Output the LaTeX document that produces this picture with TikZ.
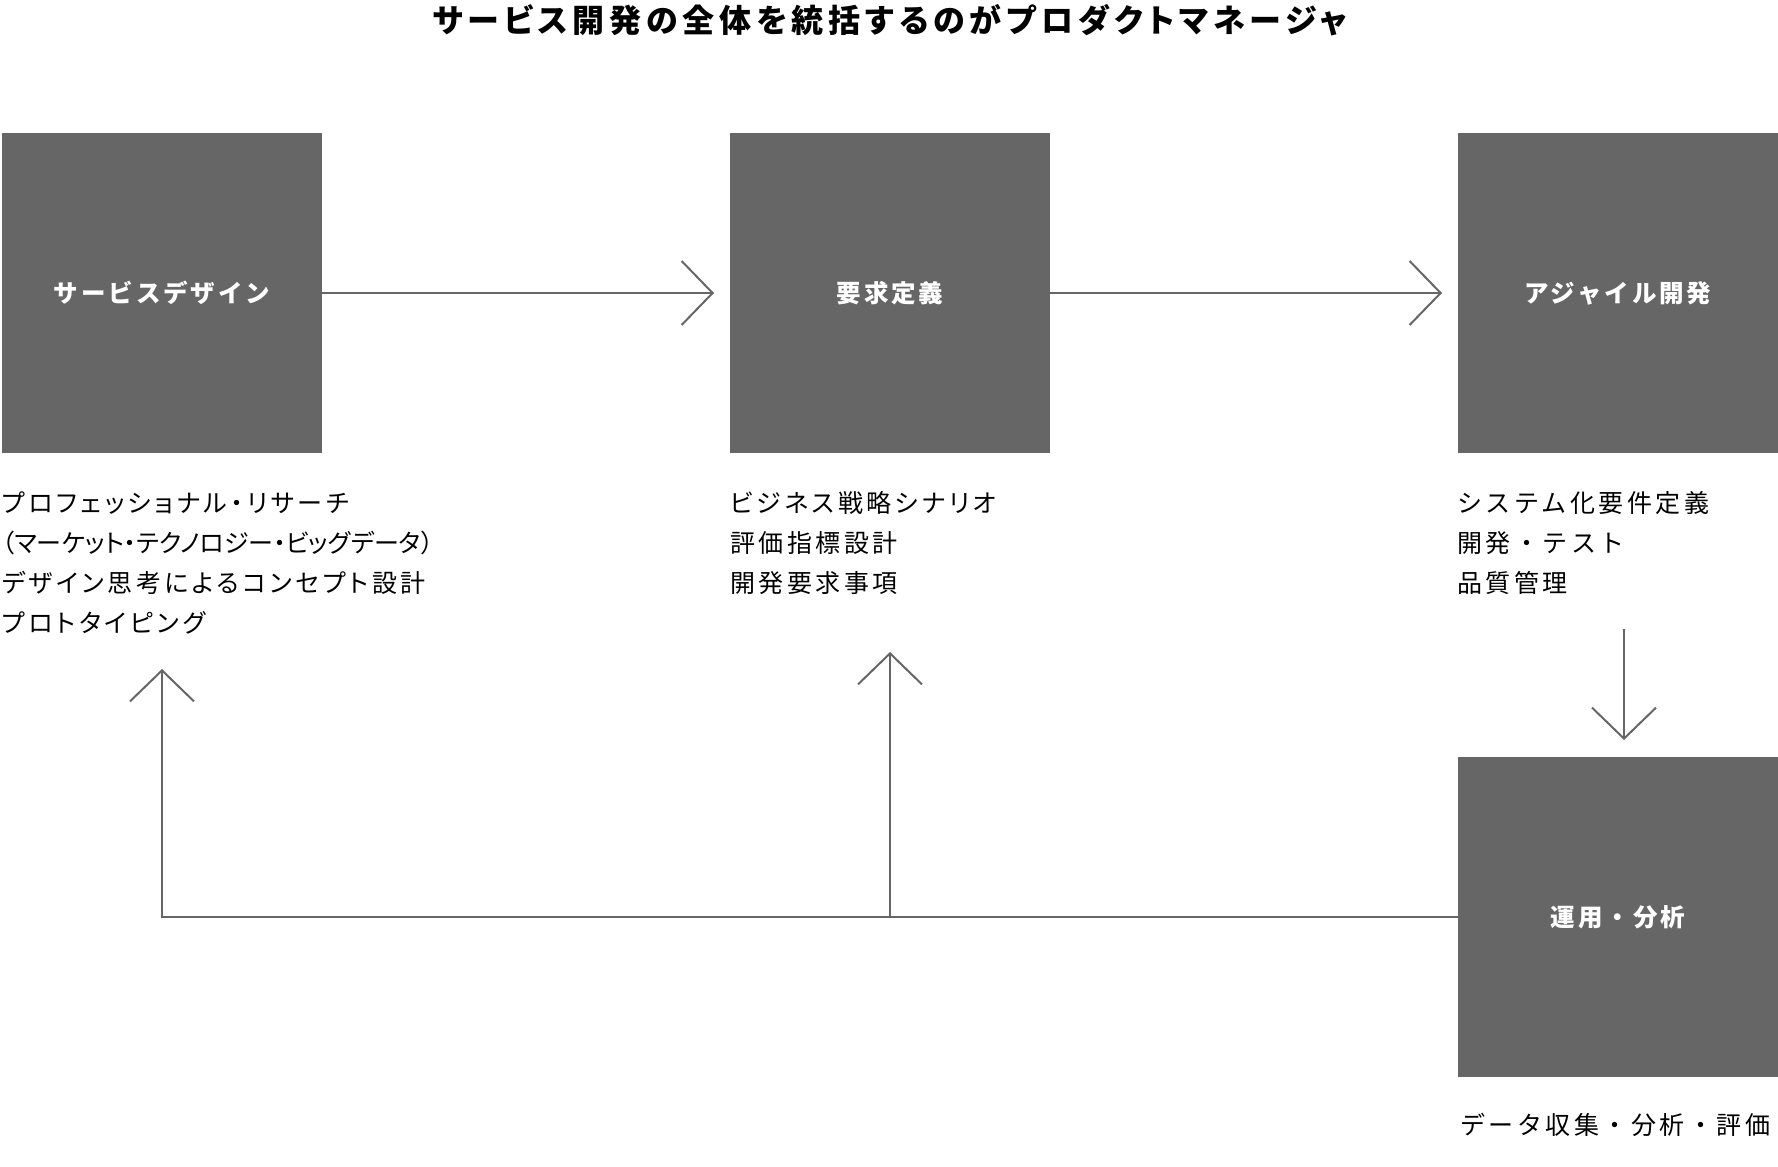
\documentclass[tikz,border=0pt]{standalone}
\usepackage{fontspec}
\setmainfont{Noto Sans CJK JP}
\newfontfamily\titlefont{Noto Sans CJK JP}[RawFeature=+palt,LetterSpace=15]
\newfontfamily\boxfont{Noto Sans CJK JP}[LetterSpace=12]
\newfontfamily\bodyfont{Noto Sans CJK JP}[RawFeature=+palt,LetterSpace=14]
\newfontfamily\bodyfontcond{Noto Sans CJK JP}[RawFeature=+palt,LetterSpace=0]
\newfontfamily\bodyfontfw{Noto Sans CJK JP}[LetterSpace=14]
\usetikzlibrary{arrows.meta}
\definecolor{boxgray}{HTML}{666666}
\begin{document}
\begin{tikzpicture}[x=1pt,y=-1pt,
  box/.style={fill=boxgray,draw=none,minimum width=320pt,minimum height=320pt,inner sep=0pt,outer sep=0pt,text=white,font=\boxfont\bfseries\fontsize{24.5}{28}\selectfont},
  conn/.style={draw=boxgray,line width=2pt},
  tip/.style={-{Straight Barb[length=31pt,width=64pt]}},
  body/.style={anchor=base west,inner sep=0pt,font=\bodyfont\fontsize{25}{30}\selectfont},
  bodycond/.style={anchor=base west,inner sep=0pt,font=\bodyfontcond\fontsize{25}{30}\selectfont},
  bodyfw/.style={anchor=base west,inner sep=0pt,font=\bodyfontfw\fontsize{25}{30}\selectfont}]
\useasboundingbox (0,0) rectangle (1778,1167);
\node[anchor=base,inner sep=0pt,font=\titlefont\bfseries\fontsize{32}{38}\selectfont] (title) at (890,32) {サービス開発の全体を統括するのがプロダクトマネージャ};
\node[box] (sd) at (162,293) {サービスデザイン};
\node[box] (rq) at (890,293) {要求定義};
\node[box] (ag) at (1618,293) {アジャイル開発};
\node[box] (op) at (1618,917) {運用・分析};
% texts
\node[body] (t11) at (2,512) {プロフェッショナル・リサーチ};
\node[bodycond] (t12) at (2,552) {（マーケット・テクノロジー・ビッグデータ）};
\node[body] (t13) at (2,592) {デザイン思考によるコンセプト設計};
\node[body] (t14) at (2,632) {プロトタイピング};
\node[body] (t21) at (730,512) {ビジネス戦略シナリオ};
\node[body] (t22) at (730,552) {評価指標設計};
\node[body] (t23) at (730,592) {開発要求事項};
\node[bodyfw] (t31) at (1457,512) {システム化要件定義};
\node[bodyfw] (t32) at (1457,552) {開発・テスト};
\node[bodyfw] (t33) at (1457,592) {品質管理};
\node[bodyfw] (t41) at (1460,1134) {データ収集・分析・評価};
% connectors
\draw[conn,tip,shorten >=16pt] (sd.east) -- (rq.west);
\draw[conn,tip,shorten >=16pt] (rq.east) -- (ag.west);
\coordinate (dtop) at (1624,629);
\draw[conn,tip,shorten >=17pt] (dtop) -- (dtop |- op.north);
\coordinate (ltip) at (162,669);
\coordinate (mtip) at (890,652);
\draw[conn,tip] (op.west) -| (ltip);
\draw[conn,tip] (op.west -| mtip) -- (mtip);
\end{tikzpicture}
\end{document}
